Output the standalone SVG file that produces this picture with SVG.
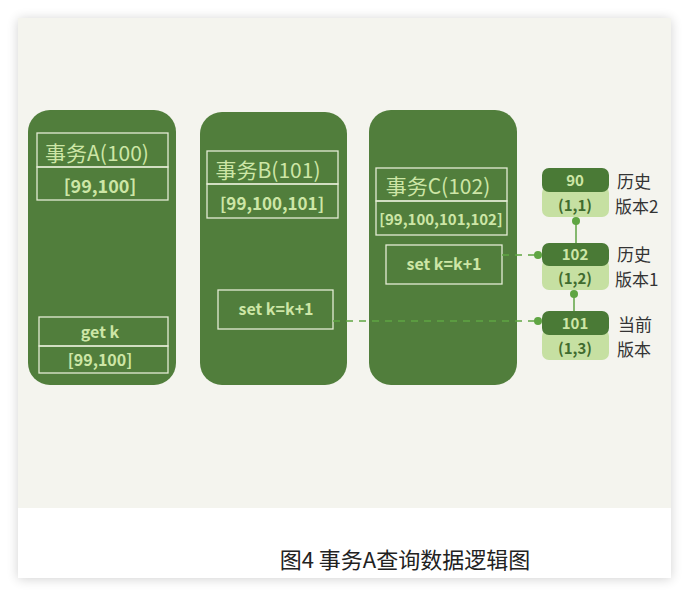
<svg xmlns="http://www.w3.org/2000/svg" width="689" height="596" viewBox="0 0 689 596">
<defs>
<filter id="sh" x="-10%" y="-10%" width="120%" height="120%"><feGaussianBlur stdDeviation="6"/></filter>
<marker id="dot" markerWidth="8" markerHeight="8" refX="4" refY="4" markerUnits="userSpaceOnUse"><circle cx="4" cy="4" r="4" fill="#5fa543"/></marker>
<style>
.col{fill:#517e3c}
.box{fill:none;stroke:#e4ecd4;stroke-width:1.3}
.t{font-family:"Noto Sans CJK SC","Liberation Sans",sans-serif;fill:#cde6a6;text-anchor:middle}
.vd{fill:#4a7a36}
.vl{fill:#c6e0a2}
.vt{font-family:"Noto Sans CJK SC","Liberation Sans",sans-serif;text-anchor:middle;font-size:15px;font-weight:600}
.lab{font-family:"Noto Sans CJK SC","Liberation Sans",sans-serif;fill:#333;font-size:17px}
.dash{stroke:#5fa543;stroke-width:1.3;stroke-dasharray:7 6;fill:none}
.solid{stroke:#5fa543;stroke-width:1.5;fill:none}
</style>
</defs>
<rect x="0" y="0" width="689" height="596" fill="#ffffff"/>
<rect x="18" y="19" width="653" height="560" fill="#000" opacity="0.18" filter="url(#sh)"/>
<rect x="18" y="18" width="653" height="560" fill="#ffffff"/>
<rect x="18" y="18" width="653" height="490" fill="#f4f4ee"/>

<g id="colA">
<rect class="col" x="28" y="110" width="148" height="275" rx="22"/>
<rect class="box" x="37" y="133" width="131" height="34"/>
<rect class="box" x="37" y="167" width="131" height="33"/>
<text class="t" x="97" y="161" font-size="21">事务A(100)</text>
<text class="t" x="100" y="193" font-size="18" font-weight="600">[99,100]</text>
<rect class="box" x="39" y="317" width="129" height="29"/>
<rect class="box" x="39" y="346" width="129" height="27"/>
<text class="t" x="100" y="338" font-size="16" font-weight="600">get k</text>
<text class="t" x="100" y="366" font-size="16" font-weight="600">[99,100]</text>
</g>

<g id="colB">
<rect class="col" x="200" y="112" width="147" height="273" rx="22"/>
<rect class="box" x="207" y="151" width="131" height="33"/>
<rect class="box" x="207" y="184" width="131" height="34"/>
<text class="t" x="268" y="178" font-size="21">事务B(101)</text>
<text class="t" x="272" y="210" font-size="17" font-weight="600">[99,100,101]</text>
<rect class="box" x="218" y="290" width="115" height="39"/>
<text class="t" x="276" y="315" font-size="16" font-weight="600">set k=k+1</text>
</g>

<g id="colC">
<rect class="col" x="369" y="110" width="148" height="275" rx="22"/>
<rect class="box" x="376" y="168" width="131" height="33"/>
<rect class="box" x="376" y="201" width="131" height="34"/>
<text class="t" x="438" y="194" font-size="21">事务C(102)</text>
<text class="t" x="441" y="225" font-size="15" font-weight="600">[99,100,101,102]</text>
<rect class="box" x="386" y="245" width="116" height="39"/>
<text class="t" x="444" y="270" font-size="16" font-weight="600">set k=k+1</text>
</g>

<g id="v2">
<rect class="vl" x="542" y="186" width="67" height="31" rx="7"/>
<rect class="vd" x="542" y="168" width="67" height="24" rx="7"/>
<text class="vt" x="575" y="186" fill="#cde6a6">90</text>
<text class="vt" x="575" y="211" fill="#3f6b2e">(1,1)</text>
<text class="lab" x="617" y="188">历史</text>
<text class="lab" x="615" y="213">版本2</text>
</g>

<g id="v1">
<rect class="vl" x="542" y="259" width="67" height="31" rx="7"/>
<rect class="vd" x="542" y="243" width="67" height="23" rx="7"/>
<text class="vt" x="575" y="260" fill="#cde6a6">102</text>
<text class="vt" x="575" y="284" fill="#3f6b2e">(1,2)</text>
<text class="lab" x="617" y="261">历史</text>
<text class="lab" x="615" y="286">版本1</text>
</g>

<g id="v0">
<rect class="vl" x="542" y="329" width="67" height="31" rx="7"/>
<rect class="vd" x="542" y="311" width="67" height="24" rx="7"/>
<text class="vt" x="575" y="329" fill="#cde6a6">101</text>
<text class="vt" x="575" y="354" fill="#3f6b2e">(1,3)</text>
<text class="lab" x="618" y="331">当前</text>
<text class="lab" x="617" y="356">版本</text>
</g>

<g id="connectors">
<path class="dash" d="M502 255 L538 255" marker-end="url(#dot)"/>
<path class="dash" d="M333 321 L538 321" marker-end="url(#dot)"/>
<path class="solid" d="M576 243 L576 221" marker-end="url(#dot)"/>
<path class="solid" d="M574 311 L574 294" marker-end="url(#dot)"/>
</g>

<text x="405" y="568" font-family="Noto Sans CJK SC,Liberation Sans,sans-serif" font-size="22" fill="#222" text-anchor="middle">图4 事务A查询数据逻辑图</text>
</svg>
